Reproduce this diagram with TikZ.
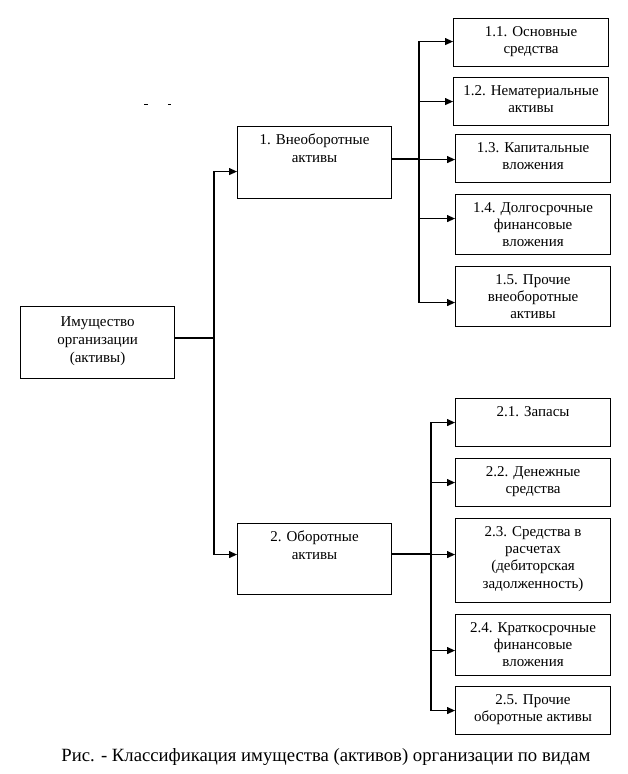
\documentclass[tikz,border=0pt]{standalone}
\usepackage{fontspec}
\setmainfont{Liberation Serif}
\usetikzlibrary{arrows.meta, positioning}

\begin{document}
\begin{tikzpicture}[
  x=1pt, y=-1pt,
  every node/.style={font=\fontsize{15}{17.3}\selectfont},
  box/.style={draw, line width=1.1pt, anchor=north west, minimum width=155pt, minimum height=#1, inner sep=0pt},
  txt/.style={align=center, anchor=north, inner sep=0pt},
  line/.style={line width=1.1pt},
  arr/.style={-{Triangle[length=8pt,width=7pt]}, line width=1.1pt}
]
\useasboundingbox (0,0) rectangle (627,774);

% main boxes
\node[box=72pt, minimum width=154pt] (root) at (20,306) {};
\node[txt, yshift=-10pt, font=\fontsize{15}{18}\selectfont] (roott) at (root.north) {Имущество\\организации\\(активы)};

\node[box=72pt, minimum width=154pt] (b1) at (237,126) {};
\node[txt, yshift=-8pt] (b1t) at (b1.north) {1. Внеоборотные\\активы};

\node[box=71pt, minimum width=154pt] (b2) at (237,523) {};
\node[txt, yshift=-8pt] (b2t) at (b2.north) {2. Оборотные\\активы};

% group 1
\node[box=48pt] (b11) at (453,18) {};
\node[txt, yshift=-8pt] (b11t) at (b11.north) {1.1. Основные\\средства};
\node[box=48pt] (b12) at (453,77) {};
\node[txt, yshift=-8pt] (b12t) at (b12.north) {1.2. Нематериальные\\активы};
\node[box=48pt] (b13) at (455,134) {};
\node[txt, yshift=-8pt] (b13t) at (b13.north) {1.3. Капитальные\\вложения};
\node[box=60pt] (b14) at (455,194) {};
\node[txt, yshift=-8pt] (b14t) at (b14.north) {1.4. Долгосрочные\\финансовые\\вложения};
\node[box=60pt] (b15) at (455,266) {};
\node[txt, yshift=-8pt] (b15t) at (b15.north) {1.5. Прочие\\внеоборотные\\активы};

% group 2
\node[box=48pt] (b21) at (455,398) {};
\node[txt, yshift=-8pt] (b21t) at (b21.north) {2.1. Запасы};
\node[box=48pt] (b22) at (455,458) {};
\node[txt, yshift=-8pt] (b22t) at (b22.north) {2.2. Денежные\\средства};
\node[box=84pt] (b23) at (455,518) {};
\node[txt, yshift=-8pt] (b23t) at (b23.north) {2.3. Средства в\\расчетах\\(дебиторская\\задолженность)};
\node[box=61pt] (b24) at (455,614) {};
\node[txt, yshift=-8pt] (b24t) at (b24.north) {2.4. Краткосрочные\\финансовые\\вложения};
\node[box=48pt] (b25) at (455,686) {};
\node[txt, yshift=-8pt] (b25t) at (b25.north) {2.5. Прочие\\оборотные активы};

\node[font=\fontsize{18.7}{21}\selectfont] (cap) at (326,757)
  {Рис. - Классификация имущества (активов) организации по видам};

% stray marks
\draw[line width=0.8pt] (144,104) -- (148,104) (168,104) -- (171,104);

% connectors
\coordinate (jr) at (214,338);
\draw[line] (root.east |- jr) -- (jr);
\draw[arr] (jr) |- ([yshift=-9pt]b1.west);
\draw[arr] (jr) |- ([yshift=4.5pt]b2.west);

\coordinate (k1) at (419,159);
\draw[line] (b1.east |- k1) -- (k1);
\foreach \n/\d in {b11/1, b12/0, b13/-1, b14/6, b15/-6}
  \draw[arr] (k1) |- ([yshift=\d pt]\n.west);

\coordinate (k2) at (431,554);
\draw[line] (b2.east |- k2) -- (k2);
\foreach \n/\d in {b21/0, b22/0, b23/6, b24/-5.5, b25/0}
  \draw[arr] (k2) |- ([yshift=\d pt]\n.west);

\end{tikzpicture}
\end{document}
